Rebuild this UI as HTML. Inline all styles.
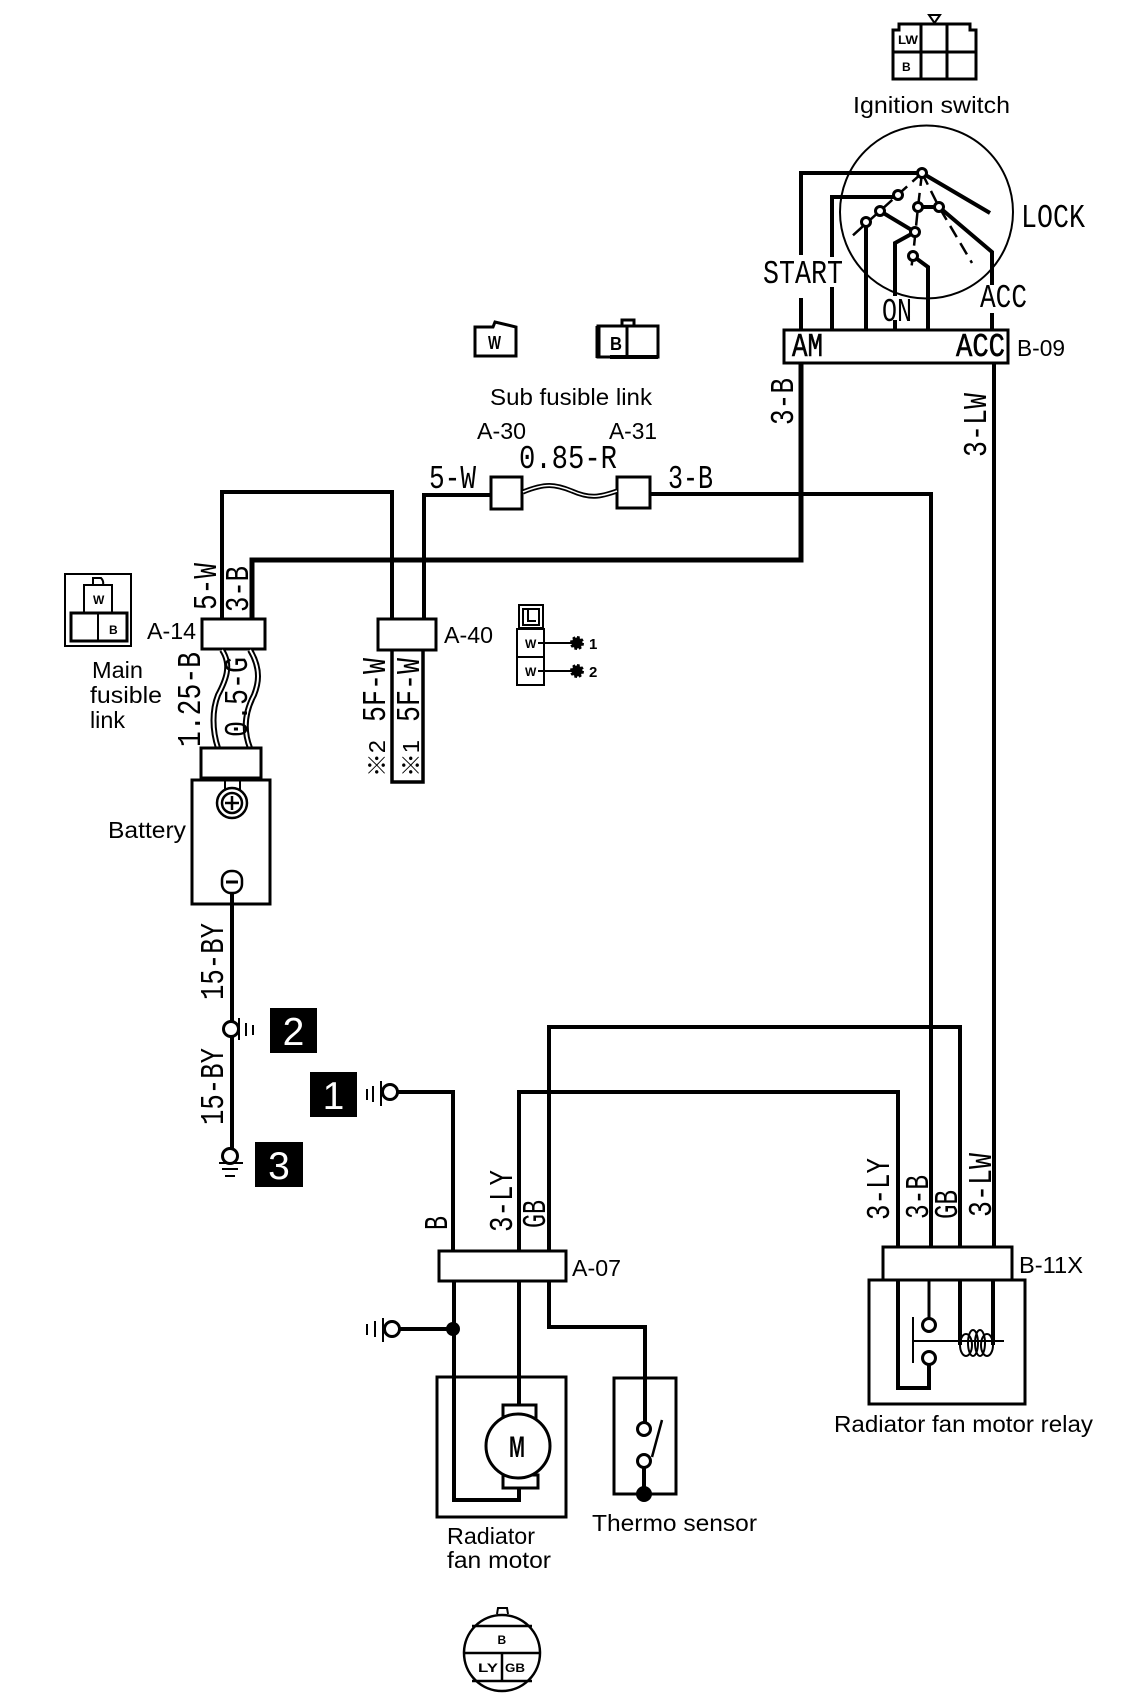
<!DOCTYPE html>
<html><head><meta charset="utf-8"><style>
html,body{margin:0;padding:0;background:#fff}
svg{display:block}
text{font-family:"Liberation Sans","Noto Sans CJK JP",sans-serif;fill:#000}
.w{fill:none;stroke:#000;stroke-width:4;stroke-linejoin:miter}
.t{fill:none;stroke:#000;stroke-width:2}
.b{fill:#fff;stroke:#000;stroke-width:3}
.n{fill:#fff;stroke:#000;stroke-width:3}
.s{font-size:23px}
.c{font-size:33px;font-family:"Liberation Mono","Noto Sans CJK JP",monospace}
.x{font-size:12px;font-weight:bold}
</style></head><body>
<svg width="1136" height="1694" viewBox="0 0 1136 1694" xmlns="http://www.w3.org/2000/svg">
<!-- ignition connector -->
<path class="t" style="stroke-width:3" d="M893 79V30L899 30V24H970V30H976V79Z M921 24V79 M947 24V79 M893 52H976"/>
<path class="t" d="M929 15H940L934.500 23Z"/>
<text class="x" x="898" y="44" textLength="20" lengthAdjust="spacingAndGlyphs">LW</text>
<text class="x" x="902" y="71">B</text>
<text class="s" x="853" y="113" textLength="157" lengthAdjust="spacingAndGlyphs">Ignition switch</text>
<circle class="t" cx="926.500" cy="212" r="86.500"/>
<!-- switch wires -->
<path class="w" d="M801 255V173H922 M922 173L990 213"/>
<path class="w" d="M832 257V197H898"/>
<path class="w" d="M832 287V329"/>
<path class="w" d="M801 298V329"/>
<path class="w" d="M866 222V329"/>
<path class="w" d="M880 211L915 232L895 243V296 M895 320V329"/>
<path class="w" d="M913 256L928 267V329"/>
<path class="w" d="M918 207H939L992 252V285 M992 313V329"/>
<path d="M922 173L850 238 M922 173L918 207L913 256L911 270 M922 173L939 207L972 263" fill="none" stroke="#000" stroke-width="2.500" stroke-dasharray="13 7"/>
<circle class="n" cx="922" cy="173" r="4.500"/><circle class="n" cx="898" cy="195" r="4.500"/><circle class="n" cx="880" cy="211" r="4.500"/><circle class="n" cx="866" cy="222" r="4.500"/><circle class="n" cx="915" cy="232" r="4.500"/><circle class="n" cx="913" cy="256" r="4.500"/><circle class="n" cx="918" cy="207" r="4.500"/><circle class="n" cx="939" cy="207" r="4.500"/>
<text class="c" x="763" y="283" textLength="80" lengthAdjust="spacingAndGlyphs">START</text>
<text class="c" x="1021" y="227" textLength="64" lengthAdjust="spacingAndGlyphs">LOCK</text>
<text class="c" x="980" y="307" textLength="47" lengthAdjust="spacingAndGlyphs">ACC</text>
<text class="c" x="882" y="321" textLength="30" lengthAdjust="spacingAndGlyphs">ON</text>
<rect class="b" x="784" y="330" width="224" height="33"/>
<text class="c" x="792" y="356" textLength="31" lengthAdjust="spacingAndGlyphs" stroke="#000" stroke-width=".6">AM</text>
<text class="c" x="956" y="356" textLength="49" lengthAdjust="spacingAndGlyphs" stroke="#000" stroke-width=".6">ACC</text>
<text class="s" x="1017" y="356" textLength="48" lengthAdjust="spacingAndGlyphs">B-09</text>
<text class="c" transform="translate(793,425) rotate(-90)" textLength="47" lengthAdjust="spacingAndGlyphs">3-B</text>
<text class="c" transform="translate(986,457) rotate(-90)" textLength="64" lengthAdjust="spacingAndGlyphs">3-LW</text>
<!-- main wires -->
<path class="w" style="stroke-width:5" d="M801 364V560H252V619"/>
<path class="w" d="M994 364V1247"/>
<path class="w" d="M650 494H931V1247"/>
<path class="w" d="M222 619V492H392V619"/>
<path class="w" d="M491 495H424V619"/>
<path class="w" d="M519 1251V1092H898V1247"/>
<path class="w" d="M549 1251V1027H960V1247"/>
<!-- sub fusible -->
<path class="t" style="stroke-width:3" d="M475 327H493L495 322L516 327V356H475Z"/>
<text x="488" y="349" font-size="18" font-weight="bold" textLength="13" lengthAdjust="spacingAndGlyphs">W</text>
<path class="t" style="stroke-width:3" d="M598 326H658V357H598Z M627 326V357 M622 326V320H634V326"/>
<path d="M598 326V358" stroke="#000" stroke-width="5"/><path d="M610 357H658" stroke="#000" stroke-width="4"/>
<text x="610" y="350" font-size="18" font-weight="bold" textLength="12" lengthAdjust="spacingAndGlyphs">B</text>
<text class="s" x="490" y="405" textLength="162" lengthAdjust="spacingAndGlyphs">Sub fusible link</text>
<text class="s" x="477" y="439" textLength="49" lengthAdjust="spacingAndGlyphs">A-30</text>
<text class="s" x="609" y="439" textLength="48" lengthAdjust="spacingAndGlyphs">A-31</text>
<text class="c" x="519" y="468" textLength="98" lengthAdjust="spacingAndGlyphs">0.85-R</text>
<text class="c" x="429" y="488" textLength="47" lengthAdjust="spacingAndGlyphs">5-W</text>
<text class="c" x="668" y="488" textLength="45" lengthAdjust="spacingAndGlyphs">3-B</text>
<rect class="b" x="491" y="477" width="31" height="32"/>
<rect class="b" x="617" y="477" width="33" height="31"/>
<path d="M523 492C545 483 555 484 572 491C590 499 600 497 617 491" fill="none" stroke="#000" stroke-width="5"/>
<path d="M523 492C545 483 555 484 572 491C590 499 600 497 617 491" fill="none" stroke="#fff" stroke-width="1.500"/>
<!-- main fusible -->
<rect class="t" x="65" y="574" width="66" height="72"/>
<rect class="t" style="stroke-width:3" x="71" y="613" width="56" height="28"/>
<path class="t" d="M98 613V641"/>
<rect class="t" x="84" y="585" width="28" height="28"/>
<path class="t" d="M93 585V578H101Q104 581 103 585"/>
<text class="x" x="93" y="604">W</text><text class="x" x="109" y="634">B</text>
<text class="s" x="92" y="678" textLength="51" lengthAdjust="spacingAndGlyphs">Main</text>
<text class="s" x="90" y="703" textLength="72" lengthAdjust="spacingAndGlyphs">fusible</text>
<text class="s" x="90" y="728" textLength="35" lengthAdjust="spacingAndGlyphs">link</text>
<text class="c" transform="translate(216,610) rotate(-90)" textLength="47" lengthAdjust="spacingAndGlyphs">5-W</text>
<text class="c" transform="translate(248,612) rotate(-90)" textLength="46" lengthAdjust="spacingAndGlyphs">3-B</text>
<text class="s" x="147" y="639" textLength="49" lengthAdjust="spacingAndGlyphs">A-14</text>
<rect class="b" x="202" y="619" width="63" height="30"/>
<g fill="none" stroke="#000">
<path stroke-width="6" d="M222 650C232 665 226 680 218 695C212 710 212 730 218 748"/>
<path stroke-width="6" d="M250 650C262 670 258 685 254 695C245 712 243 730 250 748"/>
<path stroke="#fff" stroke-width="2" d="M222 650C232 665 226 680 218 695C212 710 212 730 218 748"/>
<path stroke="#fff" stroke-width="2" d="M250 650C262 670 258 685 254 695C245 712 243 730 250 748"/>
</g>
<text class="c" transform="translate(200,747) rotate(-90)" textLength="95" lengthAdjust="spacingAndGlyphs">1.25-B</text>
<text class="c" transform="translate(247,737) rotate(-90)" textLength="80" lengthAdjust="spacingAndGlyphs">0.5-G</text>
<rect class="b" x="201" y="748" width="60" height="30"/>
<rect class="b" x="192" y="780" width="78" height="124"/>
<path class="t" d="M225 780V792 M240 780V792"/>
<circle cx="232" cy="803" r="15" fill="#fff" stroke="#000" stroke-width="2.500"/>
<circle cx="232" cy="803" r="10" fill="#fff" stroke="#000" stroke-width="2.500"/>
<path d="M232 796V810 M225 803H239" stroke="#000" stroke-width="2.500"/>
<rect x="222" y="871" width="20" height="22" rx="9" fill="#fff" stroke="#000" stroke-width="2.500"/>
<path d="M226 882H238" stroke="#000" stroke-width="3"/>
<text class="s" x="108" y="838" textLength="78" lengthAdjust="spacingAndGlyphs">Battery</text>
<!-- A-40 -->
<rect class="b" x="378" y="619" width="58" height="31"/>
<path d="M423 650V782H392V650" fill="none" stroke="#000" stroke-width="3.500"/>
<text class="s" x="444" y="643" textLength="49" lengthAdjust="spacingAndGlyphs">A-40</text>
<text class="c" transform="translate(385,722) rotate(-90)" textLength="64" lengthAdjust="spacingAndGlyphs">5F-W</text>
<text class="c" transform="translate(419,722) rotate(-90)" textLength="64" lengthAdjust="spacingAndGlyphs">5F-W</text>
<text class="s" transform="translate(385,777) rotate(-90)" textLength="37" lengthAdjust="spacingAndGlyphs">※2</text>
<text class="s" transform="translate(419,777) rotate(-90)" textLength="37" lengthAdjust="spacingAndGlyphs">※1</text>
<!-- L connector -->
<rect class="t" x="519" y="605" width="24" height="23"/>
<rect class="t" x="523" y="609" width="16" height="16"/>
<path class="t" d="M528 610V621H536"/>
<rect class="t" x="517" y="629" width="27" height="28"/>
<rect class="t" x="517" y="657" width="27" height="28"/>
<text class="x" x="525" y="648">W</text><text class="x" x="525" y="676">W</text>
<path class="t" d="M538 643H572 M538 671H572"/>
<circle cx="577" cy="643" r="5.500" fill="#000" stroke="#000" stroke-width="3" stroke-dasharray="2.500 1.800"/>
<circle cx="577" cy="671" r="5.500" fill="#000" stroke="#000" stroke-width="3" stroke-dasharray="2.500 1.800"/>
<text x="589" y="649" font-size="15" font-weight="bold">1</text>
<text x="589" y="677" font-size="15" font-weight="bold">2</text>
<!-- grounds -->
<path class="w" d="M232 893V1022 M232 1037V1149"/>
<circle class="n" cx="231" cy="1029" r="7.500"/>
<path class="t" d="M239 1018V1040 M246 1023V1036 M253 1025V1035"/>
<circle class="n" cx="230" cy="1156" r="7.500"/>
<path class="t" d="M219 1163H243 M222 1169H238 M225 1176H235"/>
<text class="c" transform="translate(223,1000) rotate(-90)" textLength="77" lengthAdjust="spacingAndGlyphs">15-BY</text>
<text class="c" transform="translate(223,1125) rotate(-90)" textLength="77" lengthAdjust="spacingAndGlyphs">15-BY</text>
<rect x="270" y="1008" width="47" height="45"/><rect x="310" y="1072" width="47" height="45"/><rect x="255" y="1142" width="48" height="45"/>
<text x="293.500" y="1045" font-size="39" text-anchor="middle" style="fill:#fff">2</text>
<text x="333.500" y="1109" font-size="39" text-anchor="middle" style="fill:#fff">1</text>
<text x="279" y="1179" font-size="39" text-anchor="middle" style="fill:#fff">3</text>
<circle class="n" cx="390" cy="1092" r="7.500"/>
<path class="t" d="M381 1081V1106 M373 1086V1102 M367 1089V1100"/>
<path class="w" d="M398 1092H453V1251"/>
<text class="c" transform="translate(447,1230) rotate(-90)" textLength="14" lengthAdjust="spacingAndGlyphs">B</text>
<text class="c" transform="translate(512,1232) rotate(-90)" textLength="62" lengthAdjust="spacingAndGlyphs">3-LY</text>
<text class="c" transform="translate(545,1228) rotate(-90)" textLength="28" lengthAdjust="spacingAndGlyphs">GB</text>
<rect class="b" x="439" y="1251" width="127" height="30"/>
<text class="s" x="572" y="1276" textLength="49" lengthAdjust="spacingAndGlyphs">A-07</text>
<!-- motor -->
<path class="w" d="M454 1281V1500H519V1488"/>
<path class="w" d="M519 1281V1405"/>
<path class="w" d="M549 1281V1327H645V1422"/>
<circle cx="453" cy="1329" r="7" fill="#000"/>
<path class="w" d="M400 1329H453"/>
<circle class="n" cx="392" cy="1329" r="7.500"/>
<path class="t" d="M383 1318V1342 M375 1321V1337 M367 1324V1335"/>
<rect class="b" style="fill:none" x="437" y="1377" width="129" height="140"/>
<rect class="b" x="503" y="1405" width="33" height="14"/>
<rect class="b" x="503" y="1475" width="35" height="13"/>
<circle class="n" cx="518" cy="1446" r="32"/>
<text x="509" y="1457" font-size="30" font-weight="bold" textLength="16" lengthAdjust="spacingAndGlyphs">M</text>
<rect class="b" style="fill:none" x="614" y="1378" width="62" height="116"/>
<path class="w" d="M644 1465V1494"/>
<circle class="n" cx="644" cy="1429" r="6.500"/><circle class="n" cx="644" cy="1461" r="6.500"/>
<path d="M662 1420L652 1457" stroke="#000" stroke-width="2.500"/>
<circle cx="644" cy="1494" r="8" fill="#000"/>
<text class="s" x="592" y="1531" textLength="165" lengthAdjust="spacingAndGlyphs">Thermo sensor</text>
<text class="s" x="447" y="1544" textLength="88" lengthAdjust="spacingAndGlyphs">Radiator</text>
<text class="s" x="447" y="1568" textLength="104" lengthAdjust="spacingAndGlyphs">fan motor</text>
<!-- bottom connector -->
<path class="t" d="M497 1614L498 1608H507L508 1614"/>
<circle class="t" style="stroke-width:2.500" cx="502" cy="1653" r="38"/>
<path class="t" style="stroke-width:2.500" d="M472 1626H532 M464 1653H540 M472 1681H532 M502 1653V1681"/>
<text class="x" x="497.500" y="1644">B</text>
<text class="x" x="478" y="1672" textLength="20" lengthAdjust="spacingAndGlyphs">LY</text>
<text class="x" x="505" y="1672" textLength="20" lengthAdjust="spacingAndGlyphs">GB</text>
<!-- relay -->
<text class="c" transform="translate(889,1220) rotate(-90)" textLength="62" lengthAdjust="spacingAndGlyphs">3-LY</text>
<text class="c" transform="translate(928,1219) rotate(-90)" textLength="44" lengthAdjust="spacingAndGlyphs">3-B</text>
<text class="c" transform="translate(957,1219) rotate(-90)" textLength="29" lengthAdjust="spacingAndGlyphs">GB</text>
<text class="c" transform="translate(991,1217) rotate(-90)" textLength="64" lengthAdjust="spacingAndGlyphs">3-LW</text>
<rect class="b" x="883" y="1247" width="129" height="33"/>
<rect class="b" style="fill:none" x="869" y="1280" width="156" height="124"/>
<text class="s" x="1019" y="1273" textLength="64" lengthAdjust="spacingAndGlyphs">B-11X</text>
<path class="w" d="M898 1281V1388H929V1365"/>
<path class="t" style="stroke-width:3" d="M929 1281V1318"/>
<path class="w" d="M960 1281V1345 M993 1281V1345"/>
<circle class="n" cx="929" cy="1325" r="6.500"/><circle class="n" cx="929" cy="1358" r="6.500"/>
<path class="t" d="M913 1317V1363 M913 1341H1004"/>
<g fill="none" stroke="#000" stroke-width="2"><ellipse cx="966" cy="1345" rx="6" ry="11"/><ellipse cx="973" cy="1343" rx="5" ry="13"/><ellipse cx="980" cy="1343" rx="5" ry="13"/><ellipse cx="987" cy="1345" rx="6" ry="11"/></g>
<text class="s" x="834" y="1432" textLength="259" lengthAdjust="spacingAndGlyphs">Radiator fan motor relay</text>
</svg>
</body></html>
